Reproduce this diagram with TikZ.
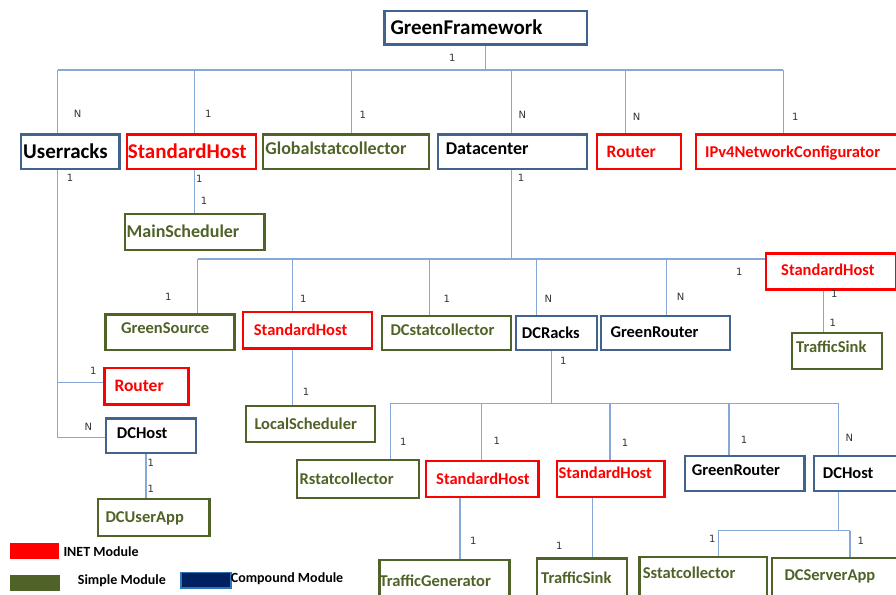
\documentclass[tikz,border=0pt]{standalone}
\usepackage{fontspec}
\setmainfont{Carlito}
\newfontfamily\multfont{DejaVu Sans}

\definecolor{compblue}{HTML}{41648F}
\definecolor{inetred}{HTML}{FF0000}
\definecolor{simplegreen}{HTML}{4F6228}
\definecolor{linkblue}{HTML}{86A8D8}
\definecolor{legnavy}{HTML}{002060}
\definecolor{legedge}{HTML}{2E75B6}

% module box: #1 style, #2 name, #3 x, #4 y (top left), #5 width, #6 height,
% #7 left text inset, #8 font size, #9 label
\newcommand\modbox[9]{%
  \pgfmathsetmacro\mbtw{#5-2*#7}%
  \pgfmathsetmacro\mbth{0.644*#8}%
  \node[text depth=0pt, #1, anchor=north west, text width=\mbtw pt,
        inner xsep=#7pt, inner ysep=0pt, minimum height=#6pt,
        text height=\mbth pt, align=left,
        font=\fontsize{#8pt}{#8pt}\selectfont\bfseries] (#2) at (#3,#4) {#9};}

\tikzset{
  compbox/.style={draw=compblue, line width=2.4pt, text=black},
  inetbox/.style={draw=inetred, line width=2.4pt, text=inetred},
  simplebox/.style={draw=simplegreen, line width=2.4pt, text=simplegreen},
  conn/.style={draw=linkblue, line width=1.1pt},
  mult/.style={font=\multfont\fontsize{10pt}{10pt}\selectfont, text=black!80, inner sep=0pt},
  legtext/.style={anchor=west, inner sep=0pt, text height=9pt, text depth=0pt,
                  font=\fontsize{14pt}{14pt}\selectfont\bfseries},
}

\begin{document}
\begin{tikzpicture}[x=1pt,y=-1pt]
\useasboundingbox (0,0) rectangle (896,594);

% ---- modules ----
\modbox{compbox}{gf}{383.3}{10}{202.4}{33.3}{6}{21}{GreenFramework}
\modbox{compbox}{ur}{20}{133.3}{98.3}{34.4}{2}{21}{Userracks}
\modbox{inetbox}{sh1}{125.7}{133.3}{129.3}{34.4}{1}{21}{StandardHost}
\modbox{simplebox,text depth=6pt}{gsc}{261.7}{133.3}{166}{34.4}{2.5}{18}{Globalstatcollector}
\modbox{compbox,text depth=5pt}{dc}{436.7}{133.3}{149}{34.4}{8}{18}{Datacenter}
\modbox{inetbox}{rt1}{596}{133.3}{84}{34.4}{9.5}{17.5}{Router}
\modbox{inetbox}{ipv4}{695}{133.3}{210}{34.4}{9}{16.5}{IPv4NetworkConfigurator}
\modbox{simplebox}{ms}{124}{212.7}{139.3}{36}{1.5}{18}{MainScheduler}

\modbox{simplebox,text depth=8pt}{gs}{104.3}{313.3}{129}{35.7}{15.7}{16.5}{GreenSource}
\modbox{inetbox}{sh2}{241.7}{310.7}{129.3}{36.6}{11}{16.5}{StandardHost}
\modbox{simplebox,text depth=6pt}{dcs}{381}{315}{129}{34}{8.3}{16.5}{DCstatcollector}
\modbox{compbox}{dcr}{515}{315}{81}{34}{5.7}{16.5}{DCRacks}
\modbox{compbox,text depth=3pt}{gr1}{600}{315}{129}{34}{9.3}{16.5}{GreenRouter}
\modbox{inetbox,text depth=3pt}{sh3}{765}{252.3}{130}{36}{15}{16.5}{StandardHost}
\modbox{simplebox,text depth=8pt}{ts1}{790.7}{331.7}{90.3}{36}{4.3}{16.5}{TrafficSink}

\modbox{inetbox}{rt2}{103.3}{366.7}{84}{36.6}{10}{17.5}{Router}
\modbox{compbox,text depth=6pt}{dch1}{105}{417.3}{90}{34.4}{10.7}{16.5}{DCHost}
\modbox{simplebox}{ls}{245}{405}{129}{36}{8.3}{16.5}{LocalScheduler}
\modbox{simplebox}{dcu}{96.7}{497.7}{111.6}{37.3}{7.7}{16.5}{DCUserApp}

\modbox{simplebox}{rs}{295.7}{459}{122}{37.7}{2.7}{16.5}{Rstatcollector}
\modbox{inetbox}{sh4}{425}{460}{112.3}{36}{10}{16.5}{StandardHost}
\modbox{inetbox,text depth=12pt}{sh5}{556}{460}{107.3}{36}{1.3}{16.5}{StandardHost}
\modbox{compbox,text depth=7pt}{gr2}{684}{455}{119.3}{35}{6.7}{16.5}{GreenRouter}
\modbox{compbox,text depth=2pt}{dch2}{812.7}{455}{100}{35}{9}{16.5}{DCHost}

\modbox{simplebox}{tg}{378.3}{559}{130}{41}{0}{16.5}{TrafficGenerator}
\modbox{simplebox}{ts2}{535.7}{557.3}{90}{38.7}{4.3}{16.5}{TrafficSink}
\modbox{simplebox,text depth=13pt}{ssc}{638.3}{556}{127.7}{44}{3.3}{16.5}{Sstatcollector}
\modbox{simplebox,text depth=9pt}{dsa}{771}{556.7}{140}{43.3}{12.3}{16.5}{DCServerApp}

% ---- top level bus ----
\coordinate (b1w) at (57.7,70);
\coordinate (b1e) at (783.3,70);
\coordinate (b1a) at (194.3,70);
\coordinate (b1b) at (351.7,70);
\coordinate (b1c) at (511.7,70);
\coordinate (b1d) at (625.3,70);
\draw[conn] (gf.south) -- (gf.south |- b1w);
\draw[conn] (b1w) -- (b1e);
\draw[conn] (b1w) -- (b1w |- ur.north);
\draw[conn] (b1a) -- (b1a |- sh1.north);
\draw[conn] (b1b) -- (b1b |- gsc.north);
\draw[conn] (b1c) -- (b1c |- dc.north);
\draw[conn] (b1d) -- (b1d |- rt1.north);
\draw[conn] (b1e) -- (b1e |- ipv4.north);

% ---- Userracks trunk ----
\coordinate (urr) at (57.7,382.3);
\coordinate (urd) at (57.7,437.3);
\draw[conn] (b1w |- ur.south) -- (urd) -- (urd -| dch1.west);
\draw[conn] (urr) -- (urr -| rt2.west);
\coordinate (dhx) at (146,0);
\draw[conn] (dhx |- dch1.south) -- (dhx |- dcu.north);

% ---- StandardHost -> MainScheduler ----
\draw[conn] (b1a |- sh1.south) -- (b1a |- ms.north);

% ---- Datacenter bus ----
\coordinate (b2w) at (197.7,259);
\coordinate (b2e) at (765,259);
\coordinate (b2a) at (292.7,259);
\coordinate (b2b) at (429.3,259);
\coordinate (b2c) at (536.7,259);
\coordinate (b2d) at (666.7,259);
\draw[conn] (511.7,0 |- dc.south) -- (511.7,259);
\draw[conn] (b2w) -- (b2e);
\draw[conn] (b2w) -- (b2w |- gs.north);
\draw[conn] (b2a) -- (b2a |- sh2.north);
\draw[conn] (b2b) -- (b2b |- dcs.north);
\draw[conn] (b2c) -- (b2c |- dcr.north);
\draw[conn] (b2d) -- (b2d |- gr1.north);
\coordinate (s3x) at (823.3,0);
\draw[conn] (s3x |- sh3.south) -- (s3x |- ts1.north);
\draw[conn] (b2a |- sh2.south) -- (b2a |- ls.north);

% ---- DCRacks bus ----
\coordinate (b3w) at (390.7,403.3);
\coordinate (b3e) at (838.3,403.3);
\coordinate (b3a) at (481.7,403.3);
\coordinate (b3b) at (610,403.3);
\coordinate (b3c) at (729,403.3);
\draw[conn] (551.7,0 |- dcr.south) -- (551.7,403.3);
\draw[conn] (b3w) -- (b3e);
\draw[conn] (b3w) -- (b3w |- rs.north);
\draw[conn] (b3a) -- (b3a |- sh4.north);
\draw[conn] (b3b) -- (b3b |- sh5.north);
\draw[conn] (b3c) -- (b3c |- gr2.north);
\draw[conn] (b3e) -- (b3e |- dch2.north);
\draw[conn] (460,0 |- sh4.south) -- (460,0 |- tg.north);
\draw[conn] (592.3,0 |- sh5.south) -- (592.3,0 |- ts2.north);

% ---- DCHost bus ----
\coordinate (b4w) at (718.3,530.7);
\coordinate (b4e) at (850,530.7);
\draw[conn] (b3e |- dch2.south) -- (838.3,530.7);
\draw[conn] (b4w) -- (b4e);
\draw[conn] (b4w) -- (b4w |- ssc.north);
\draw[conn] (b4e) -- (b4e |- dsa.north);

% ---- multiplicities ----
\node[mult] (m1) at (452.3,58.3) {1};
\node[mult] (m2) at (77.7,114.3) {N};
\node[mult] (m3) at (208.3,113.7) {1};
\node[mult] (m4) at (362.7,114.7) {1};
\node[mult] (m5) at (522.3,114.7) {N};
\node[mult] (m6) at (636.7,117) {N};
\node[mult] (m7) at (795.3,116.7) {1};
\node[mult] (m8) at (70,178.3) {1};
\node[mult] (m9) at (199.3,179.3) {1};
\node[mult] (m10) at (204,201) {1};
\node[mult] (m11) at (521,178.3) {1};
\node[mult] (m12) at (168.3,297.3) {1};
\node[mult] (m13) at (303.3,299) {1};
\node[mult] (m14) at (446.7,299) {1};
\node[mult] (m15) at (548.3,299) {N};
\node[mult] (m16) at (680.7,297.3) {N};
\node[mult] (m17) at (739.3,271.7) {1};
\node[mult] (m18) at (834.3,294.3) {1};
\node[mult] (m19) at (832.7,323.3) {1};
\node[mult] (m20) at (563.3,360.7) {1};
\node[mult] (m21) at (93.3,371) {1};
\node[mult] (m22) at (88.3,426.7) {N};
\node[mult] (m23) at (150.7,462.7) {1};
\node[mult] (m24) at (150.7,489) {1};
\node[mult] (m25) at (306,391.7) {1};
\node[mult] (m26) at (403.3,441.7) {1};
\node[mult] (m27) at (496.7,440.7) {1};
\node[mult] (m28) at (625,443.3) {1};
\node[mult] (m29) at (744,440) {1};
\node[mult] (m30) at (849.3,437.7) {N};
\node[mult] (m31) at (473.3,541) {1};
\node[mult] (m32) at (559.3,545.7) {1};
\node[mult] (m33) at (712.3,539) {1};
\node[mult] (m34) at (860.7,540.7) {1};

% ---- legend ----
\node[fill=inetred, anchor=north west, minimum width=49.7pt, minimum height=16pt, inner sep=0pt] (legI) at (9.3,542.3) {};
\node[legtext] (legIt) at (63.3,552.3) {INET Module};
\node[fill=simplegreen, anchor=north west, minimum width=50pt, minimum height=16.7pt, inner sep=0pt] (legS) at (10,574.3) {};
\node[legtext] (legSt) at (77.7,580) {Simple Module};
\node[fill=legnavy, draw=legedge, line width=1.6pt, anchor=north west, minimum width=50pt, minimum height=15.3pt, inner sep=0pt] (legC) at (180,571.7) {};
\node[legtext] (legCt) at (230.7,577.7) {Compound Module};
\end{tikzpicture}
\end{document}
